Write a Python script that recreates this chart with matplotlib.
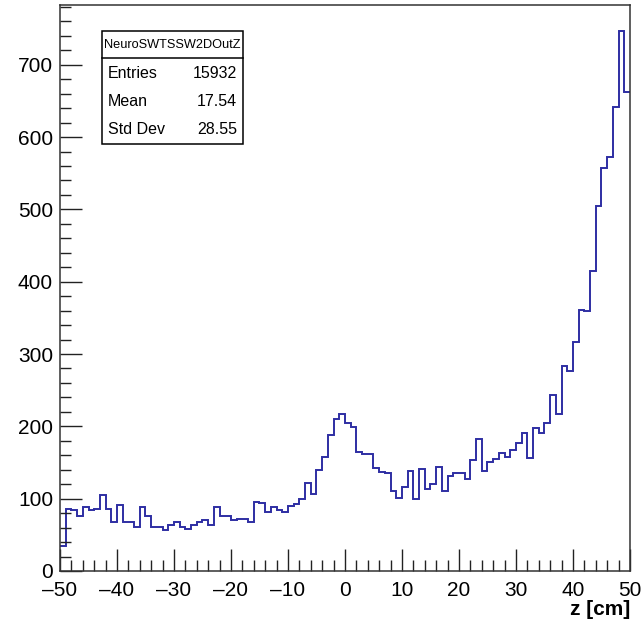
import numpy as np
import matplotlib
matplotlib.use("Agg")
import matplotlib.pyplot as plt
from matplotlib.patches import Rectangle
from matplotlib.lines import Line2D
from matplotlib.ticker import MultipleLocator, FuncFormatter

plt.rcParams['font.family'] = ['Liberation Sans', 'DejaVu Sans']

# 100 bins of 1 cm from -50 to 50
x_low, x_high = -50, 50
counts = [
    35, 86, 85, 76, 89, 84, 86, 105, 86, 68,
    91, 68, 68, 61, 89, 76, 61, 61, 56, 64,
    68, 61, 58, 63, 68, 70, 63, 89, 76, 76,
    70, 72, 72, 68, 96, 94, 82, 89, 84, 82,
    90, 93, 100, 122, 106, 139, 158, 188, 210, 217,
    204, 199, 165, 162, 162, 142, 137, 136, 110, 101,
    116, 138, 99, 141, 114, 120, 144, 111, 132, 135,
    136, 127, 153, 182, 138, 151, 155, 163, 158, 167,
    177, 191, 156, 198, 191, 205, 243, 217, 283, 276,
    316, 361, 359, 415, 504, 557, 573, 641, 746, 663,
]

hist_name = "NeuroSWTSSW2DOutZ"
stat_labels = ["Entries", "Mean", "Std Dev"]
stat_values = ["15932", "17.54", "28.55"]

W, H = 644, 623
fig = plt.figure(figsize=(W / 100, H / 100), dpi=100)
ax = fig.add_axes([60 / W, (H - 571) / H, 570 / W, (571 - 4.5) / H])

edges = np.linspace(x_low, x_high, len(counts) + 1)
ax.stairs(counts, edges, baseline=None, color="#2e2ea3", lw=1.4)

ax.set_xlim(x_low, x_high)
ax.set_ylim(0, 1.05 * max(counts))

ax.xaxis.set_major_locator(MultipleLocator(10))
ax.xaxis.set_minor_locator(MultipleLocator(2))
ax.yaxis.set_major_locator(MultipleLocator(100))
ax.yaxis.set_minor_locator(MultipleLocator(20))
ax.xaxis.set_major_formatter(FuncFormatter(lambda v, p: f"{v:.0f}".replace("-", "\u2013")))
ax.tick_params(which="both", direction="in", top=False, right=False,
               labelsize=15, width=1, color="#222222")
ax.tick_params(which="major", length=16, pad=5)
ax.tick_params(axis="x", which="major", pad=7.5)
ax.tick_params(which="minor", length=8)
for s in ax.spines.values():
    s.set_linewidth(1.1)
    s.set_color("#333333")

ax.set_xlabel("z [cm]", fontsize=15, fontweight="bold", loc="right", labelpad=0)

# statistics box in pixel coordinates
def fx(px):
    return px / W

def fy(py):
    return (H - py) / H

box_l, box_r, box_t, box_b, box_sep = 101.5, 243, 31, 144, 58
fig.patches.append(Rectangle((fx(box_l), fy(box_b)), fx(box_r) - fx(box_l), fy(box_t) - fy(box_b),
                             transform=fig.transFigure, fill=True, facecolor="white",
                             edgecolor="black", lw=1.1, zorder=5))
fig.lines.append(Line2D([fx(box_l), fx(box_r)], [fy(box_sep), fy(box_sep)],
                        transform=fig.transFigure, color="black", lw=1.1, zorder=6))
fig.text(fx((box_l + box_r) / 2), fy((box_t + box_sep) / 2), hist_name,
         ha="center", va="center", fontsize=9.2, zorder=7)
for k, (lab, val) in enumerate(zip(stat_labels, stat_values)):
    yy = fy(74 + 27.5 * k)
    fig.text(fx(108), yy, lab, ha="left", va="center", fontsize=11.5, zorder=7)
    fig.text(fx(237), yy, val, ha="right", va="center", fontsize=11.5, zorder=7)

fig.savefig("out.png", dpi=100)
